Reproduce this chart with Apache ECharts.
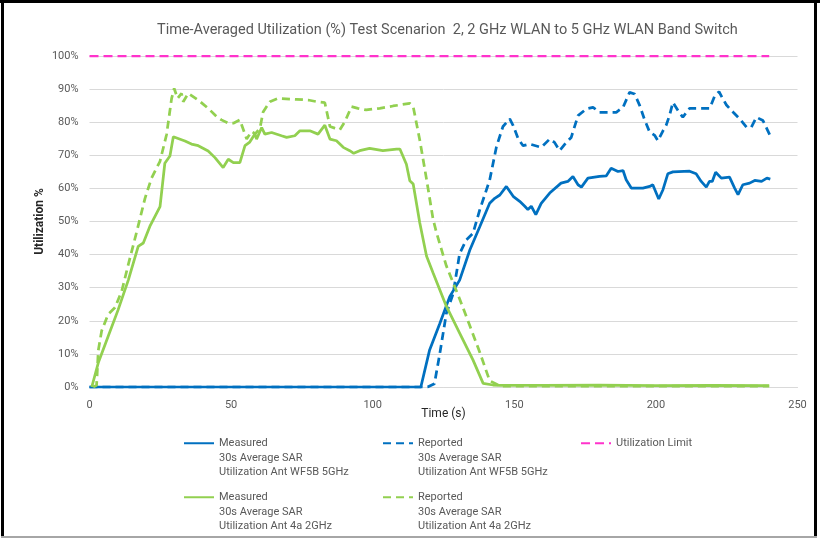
<!DOCTYPE html>
<html><head><meta charset="utf-8">
<script src="https://cdn.jsdelivr.net/npm/echarts@6/dist/echarts.min.js"></script>
<style>html,body{margin:0;padding:0;background:#fff}#c{width:820px;height:541px}</style>
</head><body><div id="c"></div>
<script>
// ---- data ----
var xTicks = [0, 50, 100, 150, 200, 250];
var yTicks = [0, 10, 20, 30, 40, 50, 60, 70, 80, 90, 100];

var meas2Time = [0.8,3.1,6.6,10.1,13.7,17.2,19,21.3,24.9,26.6,28.4,29.6,30.1,33.7,36,38.4,41.9,44.3,47.2,49,50.8,53.1,54.9,56.6,58.4,59,60.8,61.9,64.3,67.8,69.6,72.5,74.3,77.8,80.7,83.1,84.9,87.2,89.6,91.9,93.3,95.4,98.9,103.6,108.4,109.6,111.9,113.1,114.3,116.6,119,121.3,126,130.7,135.4,139,142.5,145,160,180,200,220,240];
var meas2Vals = [0,7.3,15.3,23.3,32.3,42.5,43.5,48.5,54.5,67.6,69.8,75.6,75.8,74.3,73.4,72.9,71.3,69.3,66.3,68.8,67.8,67.8,72.9,74,76.4,74.9,78.4,76.4,76.9,75.9,75.4,75.9,77.4,77.4,76.4,79.1,74.9,74.4,72.4,71.4,70.6,71.4,72.1,71.4,71.9,71.9,67.3,62.3,61.3,49.7,39.6,34.5,24.4,16.3,8.2,1.1,0.6,0.5,0.5,0.6,0.4,0.5,0.4];

var rep2Time = [1.3,2.5,3.1,4.3,6.6,9,11.4,13.7,16.7,19.6,21.9,24.9,27.2,29,29.9,31.1,32.5,33.1,34.9,38.4,41.9,44.9,46.6,49,50.8,53.1,53.7,55.5,57.2,58.5,60.2,61.3,63.7,66.6,73.1,77.2,80.2,83.1,84.9,86.6,88.4,90.2,92.5,94.8,97.7,102.5,107.2,113.1,114.3,116.6,119,121.3,122.5,126,130.7,134.3,137.8,141.3,144.9,160,180,200,220,240];
var rep2Vals = [0,0.5,11,17,22,24,29,37,47,57,63.1,68.2,76.2,87.2,90.2,87.2,88.7,86.2,88.7,86.7,84.2,81.7,80.7,79.7,79.7,80.7,80.2,74.9,77.2,76.5,78.2,83.1,86.2,87.2,86.9,86.7,86.2,85.9,78.7,78.2,77.7,80.2,84.7,84.2,83.7,84.2,84.9,85.7,84.7,74.7,62.8,50.8,46.7,36.6,26.6,18.5,10.5,1.9,0.3,0.3,0.3,0.3,0.3,0.3];

var meas5Time = [0,117,120.1,123.7,127.2,130.7,134.3,137.8,141.3,143.1,144.9,147.2,149.6,151.9,153.7,154.8,156,157.6,159.5,162.5,166.5,168.9,170.7,172.5,173.7,176,180.1,182.5,184.2,186.6,188.4,189.5,191.3,195.4,197.8,198.9,201,202.5,204.2,206,211.9,214.2,216,217.8,218.9,219.9,221.1,223.1,226,227.8,229,230.7,233.1,234.9,237.3,239.2,240.4];
var meas5Vals = [0,0,11.2,19.2,27.3,32.3,41.4,48.4,55.5,57,58,60.6,57.6,56.1,54.6,53.6,54.6,52.1,55.5,58.6,61.6,62.1,63.6,61.1,60.4,63.1,63.6,63.8,66.1,65.1,65.4,62.6,60.1,60.1,60.6,61.1,56.8,59.6,64.4,65,65.2,64.4,62.1,60.4,62.1,62.1,64.9,63.1,63.4,60.1,58.1,61.1,61.6,62.4,62.1,63.1,62.8];

var rep5Time = [0,119.4,121.8,123.7,126,128.4,130.7,133,135.4,137.8,141.3,143.7,146,148.4,149.6,151.4,153.1,155.4,159.5,162.5,164.2,166,168.4,170.1,172.5,175.4,177.8,180.1,186,188.4,190.7,192.5,194.3,195.9,197.8,199.6,200.7,202.5,203.6,204.8,206,207.8,209.5,211.9,219,220.8,222.3,223.7,224.9,227.3,229.6,232,233.7,235.5,237.8,239.2,240.4];
var rep5Vals = [0,0,1,10.1,22.2,28.2,40.3,44.4,46.4,53.5,62.5,72.6,78.7,81,79,74.9,72.9,73.4,72.4,74.9,73.9,71.4,73.9,75.4,82,84,84.5,83,83,84.5,89,88.5,85,81,77,76,74.4,77.4,79,82,86,83.5,81.5,84.2,84.2,88,89.2,87,85.2,83,81,78.5,78.5,81.5,80.5,78,75.8];

var limitTime = [0, 240];
var limitVals = [100, 100];

var names = {
  m5: 'Measured\n30s Average SAR\nUtilization Ant WF5B 5GHz',
  r5: 'Reported\n30s Average SAR\nUtilization Ant WF5B 5GHz',
  lim: 'Utilization Limit',
  m2: 'Measured\n30s Average SAR\nUtilization Ant 4a 2GHz',
  r2: 'Reported\n30s Average SAR\nUtilization Ant 4a 2GHz'
};

function zip(t, v) { return t.map(function (x, i) { return [x, v[i]]; }); }

var FONT = 'Roboto, "Noto Sans", sans-serif';
var BLUE = '#0070C0', GREEN = '#92D050', PINK = '#FF33CC';

function lineSeries(name, data, color, dashed, width) {
  return {
    name: name, type: 'line', data: data, symbol: 'none', smooth: false,
    lineStyle: { color: color, width: width || 2.75, type: dashed ? dashed : 'solid', cap: 'butt' },
    itemStyle: { color: color },
    emphasis: { disabled: true }, z: 3
  };
}

function legendAt(name, left, top, multi) {
  return {
    data: [name], left: left, top: top, padding: 0,
    itemWidth: 30, itemHeight: 14, itemGap: 0, selectedMode: false,
    itemStyle: { opacity: 0 },
    formatter: function (n) { return multi ? '\n\n' + n : n; },
    textStyle: { color: '#595959', fontSize: 11, fontFamily: FONT, lineHeight: 14.5 }
  };
}

var chart = echarts.init(document.getElementById('c'), null, { renderer: 'canvas' });
chart.setOption({
  animation: false,
  backgroundColor: '#fff',
  title: {
    text: 'Time-Averaged Utilization (%) Test Scenarion  2, 2 GHz WLAN to 5 GHz WLAN Band Switch',
    left: 152, top: 18,
    textStyle: { color: '#595959', fontSize: 14.5, fontWeight: 'normal', fontFamily: FONT }
  },
  grid: { left: 89.5, right: 22.5, top: 56, bottom: 154, containLabel: false },
  xAxis: {
    type: 'value', min: 0, max: 250, interval: 50,
    name: 'Time (s)', nameLocation: 'middle', nameGap: 21, nameMoveOverlap: false,
    nameTextStyle: { color: '#262626', fontSize: 12, fontFamily: FONT },
    axisLine: { show: true, lineStyle: { color: '#D9D9D9', width: 1 } },
    axisTick: { show: false },
    splitLine: { show: false },
    axisLabel: { color: '#595959', fontSize: 11, fontFamily: FONT, margin: 13,
      formatter: function (v) { return xTicks.indexOf(v) >= 0 ? String(v) : ''; } }
  },
  yAxis: {
    type: 'value', min: 0, max: 100, interval: 10,
    name: 'Utilization %', nameLocation: 'middle', nameGap: 44, nameRotate: 90, nameMoveOverlap: false,
    nameTextStyle: { color: '#262626', fontSize: 12, fontFamily: FONT, fontWeight: 'bold' },
    axisLine: { show: false }, axisTick: { show: false },
    splitLine: { show: true, lineStyle: { color: '#D9D9D9', width: 1 } },
    axisLabel: { color: '#595959', fontSize: 11, fontFamily: FONT, margin: 11,
      formatter: function (v) { return yTicks.indexOf(v) >= 0 ? v + '%' : ''; } }
  },
  legend: [
    legendAt(names.m5, 183, 407, true),
    legendAt(names.r5, 382, 407, true),
    legendAt(names.lim, 580, 436, false),
    legendAt(names.m2, 183, 461, true),
    legendAt(names.r2, 382, 461, true)
  ],
  series: [
    lineSeries(names.m5, zip(meas5Time, meas5Vals), BLUE, null),
    lineSeries(names.r5, zip(rep5Time, rep5Vals), BLUE, [8, 5]),
    lineSeries(names.lim, zip(limitTime, limitVals), PINK, [9, 5], 2.25),
    lineSeries(names.m2, zip(meas2Time, meas2Vals), GREEN, null),
    lineSeries(names.r2, zip(rep2Time, rep2Vals), GREEN, [8, 5])
  ],
  graphic: [
    { type: 'rect', shape: { x: 0, y: 0, width: 820, height: 3 }, style: { fill: '#000' }, silent: true },
    { type: 'rect', shape: { x: 1, y: 0, width: 3, height: 538 }, style: { fill: '#000' }, silent: true },
    { type: 'rect', shape: { x: 814, y: 0, width: 3, height: 538 }, style: { fill: '#000' }, silent: true },
    { type: 'rect', shape: { x: 1, y: 536, width: 816, height: 2 }, style: { fill: '#A6A6A6' }, silent: true }
  ]
});
</script></body></html>
